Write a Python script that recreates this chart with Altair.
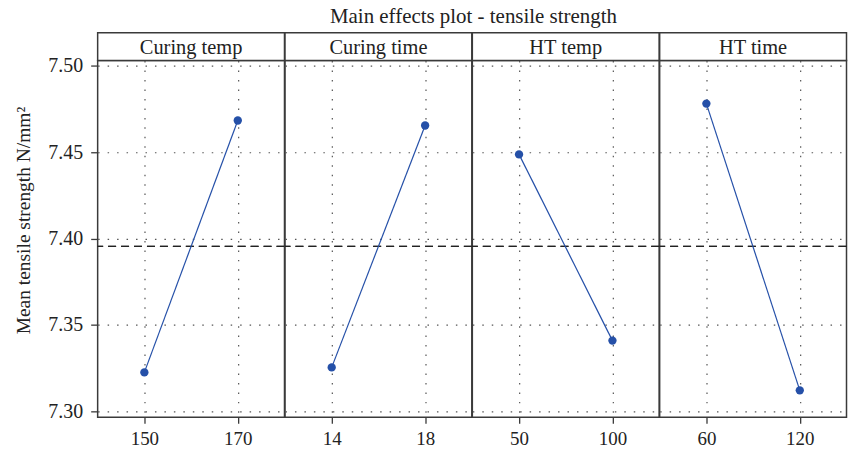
import altair as alt
import pandas as pd

# Main effects of the four factors on mean tensile strength
factors = ["Curing temp", "Curing time", "HT temp", "HT time"]
levels = [["150", "170"], ["14", "18"], ["50", "100"], ["60", "120"]]
means = [[7.3225, 7.4683], [7.3254, 7.4654], [7.4487, 7.3409], [7.4781, 7.3121]]
grand_mean = 7.3954
y_ticks = [7.30, 7.35, 7.40, 7.45, 7.50]

FONT = "Liberation Serif"
INK = "#222222"
FRAME = "#3a3a3a"
BLUE = "#2550a8"
W = 187.5
H = 358
HEAD = 28

y_scale = alt.Scale(domain=[7.2965, 7.503], nice=False, zero=False)
grid_dash = [1.5, 8]

panels = []
for i, (name, lv, mv) in enumerate(zip(factors, levels, means)):
    df = pd.DataFrame({"level": lv, "mean": mv})
    first = i == 0

    y_kwargs = dict(values=y_ticks, format=".2f", grid=True, gridDash=grid_dash,
                    gridColor="#555555", gridWidth=1.2, domain=False)
    if first:
        y_kwargs.update(title="Mean tensile strength N/mm²", labels=True, ticks=True,
                        tickSize=7, tickColor=FRAME, tickWidth=1.3, labelPadding=8,
                        labelFontSize=20, titleFontSize=19.5, titlePadding=14,
                        titleY=160)
    else:
        y_kwargs.update(title="", labels=False, ticks=False)

    x_enc = alt.X("level:N", sort=lv, scale=alt.Scale(type="point", padding=0.5),
                  axis=alt.Axis(title="", labelAngle=0, grid=True, gridDash=grid_dash,
                                gridColor="#555555", gridWidth=1.2, domain=False,
                                tickSize=6, tickColor=FRAME, tickWidth=1.3,
                                labelFontSize=19, labelPadding=6))
    y_enc = alt.Y("mean:Q", scale=y_scale, axis=alt.Axis(**y_kwargs))

    base = alt.Chart(df)
    line = base.mark_line(color=BLUE, strokeWidth=1.2).encode(x=x_enc, y=y_enc)
    pts = base.mark_circle(color=BLUE, size=70, opacity=1).encode(x=x_enc, y=y_enc)
    ref = base.mark_rule(color=INK, strokeDash=[8, 5], strokeWidth=1.2).encode(
        y=alt.datum(grand_mean))

    # boxed factor name sitting on top of each panel
    head_df = pd.DataFrame({"label": [name]})
    head_box = alt.Chart(head_df).mark_rect(
        fill="white", stroke=FRAME, strokeWidth=1.5
    ).encode(x=alt.value(0), x2=alt.value(W), y=alt.value(-HEAD), y2=alt.value(0))
    head_txt = alt.Chart(head_df).mark_text(
        font=FONT, fontSize=20.5, color=INK, baseline="middle", align="center"
    ).encode(x=alt.value(W / 2), y=alt.value(-HEAD / 2 + 1), text="label:N")

    panels.append(alt.layer(ref, line, pts, head_box, head_txt).properties(
        width=W, height=H))

chart = alt.hconcat(*panels, spacing=0, bounds="flush").properties(
    title=alt.TitleParams("Main effects plot - tensile strength", font=FONT,
                          fontSize=21, fontWeight="normal", color=INK,
                          anchor="middle", offset=4, dx=43),
    padding={"left": 13, "top": 5, "right": 0, "bottom": 2},
    background="white",
).configure_view(
    stroke=FRAME, strokeWidth=1.5
).configure_axis(
    labelFont=FONT, titleFont=FONT, labelColor=INK, titleColor=INK,
    titleFontWeight="normal"
)

chart.save("out.html", embed_options={"renderer": "svg", "actions": False})
